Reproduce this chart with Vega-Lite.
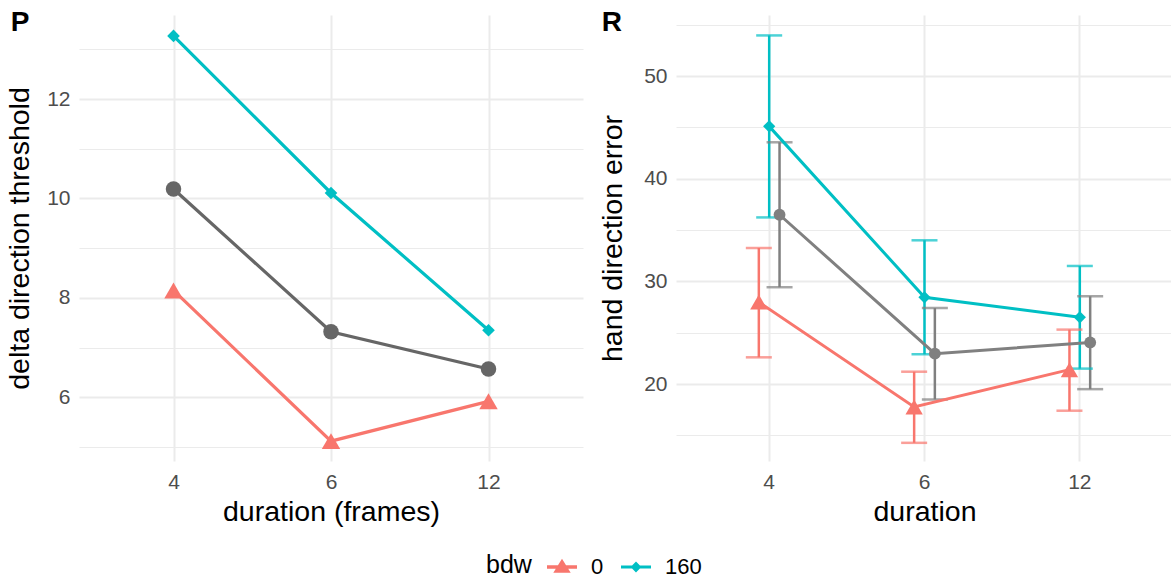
{
  "$schema": "https://vega.github.io/schema/vega-lite/v6.json",
  "background": "white",
  "padding": {"left": 5, "top": 9, "right": 0, "bottom": 0},
  "spacing": 15,
  "config": {
    "font": "Liberation Sans",
    "view": {"stroke": null},
    "axis": {
      "domain": false, "ticks": false, "tickSize": 0, "grid": true,
      "gridColor": "#EBEBEB", "labelColor": "#4D4D4D", "labelFontSize": 21,
      "titleFontSize": 28.5, "titleFontWeight": "normal", "titleColor": "#000000",
      "labelPadding": 9, "titlePadding": 12
    },
    "axisX": {"labelPadding": 10, "titlePadding": 5, "labelAngle": 0, "gridWidth": 2}
  },
  "datasets": {
    "left": [
      {"duration": "4", "series": "0", "value": 8.15},
      {"duration": "6", "series": "0", "value": 5.12},
      {"duration": "12", "series": "0", "value": 5.92},
      {"duration": "4", "series": "160", "value": 13.27},
      {"duration": "6", "series": "160", "value": 10.11},
      {"duration": "12", "series": "160", "value": 7.35},
      {"duration": "4", "series": "mean", "value": 10.19},
      {"duration": "6", "series": "mean", "value": 7.32},
      {"duration": "12", "series": "mean", "value": 6.57}
    ],
    "right": [
      {"duration": "4", "series": "0", "value": 27.98, "lo": 22.6, "hi": 33.25},
      {"duration": "6", "series": "0", "value": 17.77, "lo": 14.27, "hi": 21.2},
      {"duration": "12", "series": "0", "value": 21.4, "lo": 17.4, "hi": 25.3},
      {"duration": "4", "series": "160", "value": 45.1, "lo": 36.23, "hi": 53.96},
      {"duration": "6", "series": "160", "value": 28.45, "lo": 22.9, "hi": 34.0},
      {"duration": "12", "series": "160", "value": 26.5, "lo": 21.5, "hi": 31.5},
      {"duration": "4", "series": "mean", "value": 36.49, "lo": 29.43, "hi": 43.55},
      {"duration": "6", "series": "mean", "value": 22.96, "lo": 18.5, "hi": 27.4},
      {"duration": "12", "series": "mean", "value": 24.05, "lo": 19.5, "hi": 28.55}
    ]
  },
  "hconcat": [
    {
      "title": {"text": "P", "anchor": "start", "frame": "bounds", "fontSize": 28, "fontWeight": "bold", "color": "#000000", "baseline": "top", "offset": -22, "dx": 5},
      "width": 504,
      "height": 446,
      "data": {"name": "left"},
      "encoding": {
        "x": {"field": "duration", "type": "nominal", "sort": ["4", "6", "12"],
              "scale": {"type": "point", "padding": 0.6},
              "axis": {"title": "duration (frames)"}},
        "y": {"field": "value", "type": "quantitative",
              "scale": {"domain": [4.72, 13.69], "nice": false, "zero": false},
              "axis": {"title": "delta direction threshold", "values": [5, 6, 7, 8, 9, 10, 11, 12, 13],
                       "labelExpr": "datum.value % 2 == 0 ? datum.label : ''",
                       "gridWidth": {"condition": {"test": "datum.value % 2 == 0", "value": 2}, "value": 1.2}}}
      },
      "layer": [
        {
          "mark": {"type": "line", "strokeWidth": 3.2},
          "encoding": {
            "color": {"condition": [{"test": "datum.series == '0'", "value": "#F8766D"},
                                    {"test": "datum.series == '160'", "value": "#00BFC4"}],
                      "value": "#666666"},
            "detail": {"field": "series", "type": "nominal"}
          }
        },
        {
          "transform": [{"filter": "datum.series == '0'"}],
          "mark": {"type": "point", "shape": "triangle-up", "filled": true, "opacity": 1, "size": 340, "color": "#F8766D"}
        },
        {
          "transform": [{"filter": "datum.series == '160'"}],
          "mark": {"type": "point", "shape": "diamond", "filled": true, "opacity": 1, "size": 160, "color": "#00BFC4"}
        },
        {
          "transform": [{"filter": "datum.series == 'mean'"}],
          "mark": {"type": "point", "shape": "circle", "filled": true, "opacity": 1, "size": 240, "color": "#666666"}
        }
      ]
    },
    {
      "title": {"text": "R", "anchor": "start", "frame": "bounds", "fontSize": 28, "fontWeight": "bold", "color": "#000000", "baseline": "top", "offset": -22, "dx": 3},
      "width": 497,
      "height": 446,
      "data": {"name": "right"},
      "encoding": {
        "x": {"field": "duration", "type": "nominal", "sort": ["4", "6", "12"],
              "scale": {"type": "band", "paddingInner": 0.8, "paddingOuter": 0.5},
              "axis": {"title": "duration", "bandPosition": 0.5}},
        "xOffset": {"field": "series", "type": "nominal", "sort": ["0", "160", "mean"],
                    "scale": {"domain": ["0", "160", "mean"]}},
        "y": {"field": "value", "type": "quantitative", "scale": {"domain": [12.5, 55.95], "nice": false, "zero": false},
              "axis": {"title": "hand direction error", "titlePadding": 16, "values": [15, 20, 25, 30, 35, 40, 45, 50, 55],
                       "labelExpr": "datum.value % 10 == 0 ? datum.label : ''",
                       "gridWidth": {"condition": {"test": "datum.value % 10 == 0", "value": 2}, "value": 1.2}}},
        "color": {"condition": [{"test": "datum.series == '0'", "value": "#F8766D"},
                                {"test": "datum.series == '160'", "value": "#00BFC4"}],
                  "value": "#808080"}
      },
      "layer": [
        {
          "mark": {"type": "rule", "strokeWidth": 2.5},
          "encoding": {
            "y": {"field": "lo", "type": "quantitative", "scale": {"domain": [12.5, 55.95], "nice": false, "zero": false},
                  "axis": {"title": "hand direction error", "titlePadding": 16, "values": [15, 20, 25, 30, 35, 40, 45, 50, 55],
                           "labelExpr": "datum.value % 10 == 0 ? datum.label : ''",
                           "gridWidth": {"condition": {"test": "datum.value % 10 == 0", "value": 2}, "value": 1.2}}},
            "y2": {"field": "hi"}
          }
        },
        {
          "mark": {"type": "tick", "thickness": 2.5, "size": 26},
          "encoding": {
            "y": {"field": "lo", "type": "quantitative", "scale": {"domain": [12.5, 55.95], "nice": false, "zero": false},
                  "axis": {"title": "hand direction error", "titlePadding": 16, "values": [15, 20, 25, 30, 35, 40, 45, 50, 55],
                           "labelExpr": "datum.value % 10 == 0 ? datum.label : ''",
                           "gridWidth": {"condition": {"test": "datum.value % 10 == 0", "value": 2}, "value": 1.2}}}
          }
        },
        {
          "mark": {"type": "tick", "thickness": 2.5, "size": 26},
          "encoding": {
            "y": {"field": "hi", "type": "quantitative", "scale": {"domain": [12.5, 55.95], "nice": false, "zero": false},
                  "axis": {"title": "hand direction error", "titlePadding": 16, "values": [15, 20, 25, 30, 35, 40, 45, 50, 55],
                           "labelExpr": "datum.value % 10 == 0 ? datum.label : ''",
                           "gridWidth": {"condition": {"test": "datum.value % 10 == 0", "value": 2}, "value": 1.2}}}
          }
        },
        {
          "mark": {"type": "line", "strokeWidth": 3},
          "encoding": {"detail": {"field": "series", "type": "nominal"}}
        },
        {
          "transform": [{"filter": "datum.series == '0'"}],
          "mark": {"type": "point", "shape": "triangle-up", "filled": true, "opacity": 1, "size": 300}
        },
        {
          "transform": [{"filter": "datum.series == '160'"}],
          "mark": {"type": "point", "shape": "diamond", "filled": true, "opacity": 1, "size": 150}
        },
        {
          "transform": [{"filter": "datum.series == 'mean'"}],
          "mark": {"type": "point", "shape": "circle", "filled": true, "opacity": 1, "size": 140}
        },
        {
          "transform": [{"filter": "datum.series != 'mean'"}],
          "mark": {"type": "point", "filled": true, "opacity": 0, "size": 900},
          "encoding": {
            "color": {"field": "series", "type": "nominal",
                      "scale": {"domain": ["0", "160"], "range": ["#F8766D", "#00BFC4"]},
                      "legend": {"title": "bdw", "orient": "none", "legendX": 407, "legendY": 537, "direction": "horizontal",
                                 "titleOrient": "left", "symbolSize": 900, "symbolOpacity": 1, "symbolStrokeWidth": 0,
                                 "labelFontSize": 22, "titleFontSize": 25, "titleFontWeight": "normal",
                                 "labelColor": "#000000", "titleColor": "#000000", "titlePadding": 15,
                                 "labelOffset": 14, "columnPadding": 17, "padding": 0}},
            "shape": {"field": "series", "type": "nominal",
                      "scale": {"domain": ["0", "160"],
                                "range": ["M-1,-0.12H1V0.12H-1Z M0,-0.55L0.58,0.38H-0.58Z",
                                          "M-1,-0.1H1V0.1H-1Z M0,-0.36L0.36,0L0,0.36L-0.36,0Z"]},
                      "legend": {"title": "bdw", "orient": "none", "legendX": 407, "legendY": 537, "direction": "horizontal",
                                 "titleOrient": "left", "symbolSize": 900, "symbolOpacity": 1, "symbolStrokeWidth": 0,
                                 "labelFontSize": 22, "titleFontSize": 25, "titleFontWeight": "normal",
                                 "labelColor": "#000000", "titleColor": "#000000", "titlePadding": 15,
                                 "labelOffset": 14, "columnPadding": 17, "padding": 0}}
          }
        }
      ]
    }
  ]
}
